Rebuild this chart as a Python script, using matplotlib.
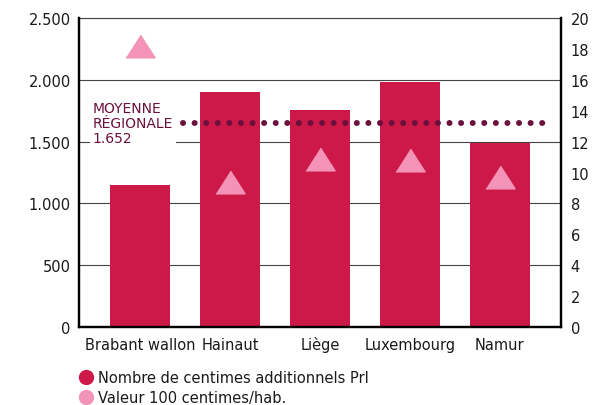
import matplotlib.pyplot as plt
import matplotlib.transforms as mtransforms
from matplotlib.lines import Line2D

plt.rcParams['font.family'] = ['DejaVu Sans']

provinces = ['Brabant wallon', 'Hainaut', 'Liège', 'Luxembourg', 'Namur']
centimes = [1150, 1900, 1755, 1980, 1490]
valeur_100 = [18.2, 9.4, 10.9, 10.8, 9.7]
moyenne = 1652

bar_color = '#cc1947'
tri_color = '#f293b7'
avg_color = '#6b0f3d'
text_color = '#1a1a1a'

fig = plt.figure(figsize=(5.93, 4.06), dpi=100)
ax = fig.add_axes([0.1332, 0.192, 0.8128, 0.761])
ax2 = ax.twinx()

x = list(range(len(provinces)))
ax.bar(x, centimes, width=0.667, color=bar_color, zorder=2)
ax.set_xlim(-0.68, 4.68)
ax.set_ylim(0, 2500)
ax.set_yticks(range(0, 2501, 500))
ax.set_yticklabels(['0', '500', '1.000', '1.500', '2.000', '2.500'])
ax.grid(axis='y', color='#444444', linewidth=0.8, zorder=0)
ax.axhline(2500, color='#444444', linewidth=0.8, clip_on=False, zorder=0)
ax.set_axisbelow(True)
ax.set_xticks(x)
ax.set_xticklabels([])
ax.tick_params(axis='y', length=0, labelsize=10.5, colors=text_color, pad=6)
ax.tick_params(axis='x', length=0)

# category names on a common baseline (accents would push top-aligned labels down)
below = ax.get_xaxis_transform() + mtransforms.ScaledTranslation(0, -22 / 100, fig.dpi_scale_trans)
for i, name in zip(x, provinces):
    ax.text(i, 0, name, transform=below, ha='center', va='baseline',
            fontsize=10.5, color=text_color)

# regional average
ax.axhline(moyenne, xmin=0.216, xmax=0.983, color=avg_color, lw=4.3,
           ls=(0, (0.01, 1.93)), dash_capstyle='round', zorder=3)
ax.text(-0.53, moyenne, 'MOYENNE\nRÉGIONALE\n1.652', color=avg_color,
        fontsize=10, va='center', ha='left',
        linespacing=1.1, zorder=4,
        bbox=dict(facecolor='white', edgecolor='none', pad=2))

ax2.set_ylim(0, 20)
ax2.set_yticks(range(0, 21, 2))
ax2.tick_params(length=0, labelsize=10.5, colors=text_color, pad=7)
tri = [(-1, -0.78), (1, -0.78), (0, 0.78)]
ax2.plot(x, valeur_100, ls='none', marker=tri, markersize=21,
         color=tri_color, zorder=5)

for a in (ax, ax2):
    a.spines['top'].set_visible(False)
    for s in ('left', 'right', 'bottom'):
        a.spines[s].set_linewidth(1.6)
        a.spines[s].set_color('black')

handles = [
    Line2D([], [], ls='none', marker='o', markersize=10, color=bar_color),
    Line2D([], [], ls='none', marker='o', markersize=10, color=tri_color),
]
fig.legend(handles, ['Nombre de centimes additionnels PrI', 'Valeur 100 centimes/hab.'],
           loc='upper left', bbox_to_anchor=(0.118, 0.105), frameon=False,
           fontsize=10.5, handletextpad=0.2, labelspacing=0.35,
           handlelength=1.2, borderpad=0, labelcolor=text_color)

fig.savefig('out.png', dpi=100)
